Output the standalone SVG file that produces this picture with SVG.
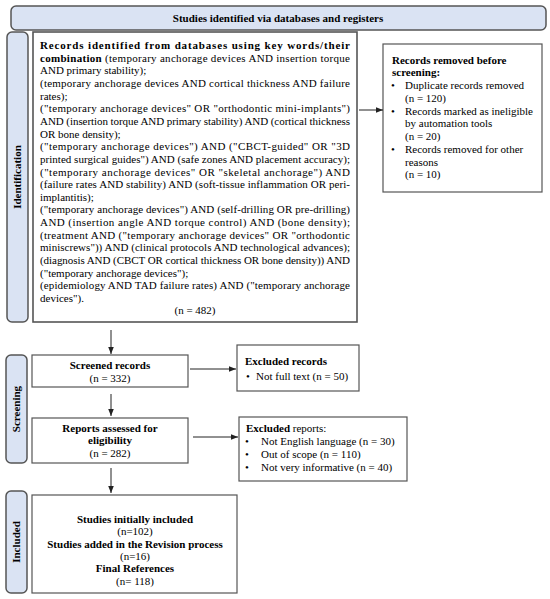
<svg xmlns="http://www.w3.org/2000/svg" width="550" height="599" viewBox="0 0 550 599" font-family="Liberation Serif, Times New Roman, DejaVu Serif, serif" font-size="11">
<style>
text{font-family:'Liberation Serif','Times New Roman','DejaVu Serif',serif;font-size:11px;fill:#000}
.b{font-weight:bold}
.m{text-anchor:middle}
.side{fill:#dae3f3;stroke:#555;stroke-width:1.5}
.box{fill:#fff;stroke:#555;stroke-width:1.2}
.con{stroke:#222;stroke-width:1;fill:none}
</style>
<defs>
<marker id="ah" viewBox="0 0 10 10" refX="10" refY="5" markerWidth="7" markerHeight="7" markerUnits="userSpaceOnUse" orient="auto">
<path d="M0,1 L10,5 L0,9 Z" fill="#222"/>
</marker>
</defs>
<rect width="550" height="599" fill="#fff"/>
<g id="header">
<rect class="side" x="11" y="6" width="535" height="24" rx="5"/>
<text class="b m" x="278" y="22">Studies identified via databases and registers</text>
</g>
<g id="side-identification">
<rect class="side" x="7" y="32" width="21" height="290" rx="5"/>
<text class="b m" transform="translate(21,177) rotate(-90)">Identification</text>
</g>
<g id="side-screening">
<rect class="side" x="6" y="355" width="21" height="108" rx="5"/>
<text class="b m" transform="translate(20,409) rotate(-90)">Screening</text>
</g>
<g id="side-included">
<rect class="side" x="6" y="491" width="21" height="102" rx="5"/>
<text class="b m" transform="translate(20,542) rotate(-90)">Included</text>
</g>
<g id="records-identified">
<rect class="box" x="33" y="32" width="324" height="290" style="stroke-width:1.6"/>
<text class="b" x="40" y="49" textLength="310" lengthAdjust="spacing">Records identified from databases using key words/their</text>
<text x="40" y="61.65" textLength="310" lengthAdjust="spacing"><tspan class="b">combination</tspan> (temporary anchorage devices AND insertion torque</text>
<text x="40" y="74.3">AND primary stability);</text>
<text x="40" y="86.95" textLength="310" lengthAdjust="spacing">(temporary anchorage devices AND cortical thickness AND failure</text>
<text x="40" y="99.6">rates);</text>
<text x="40" y="112.25" textLength="310" lengthAdjust="spacing">("temporary anchorage devices" OR "orthodontic mini-implants")</text>
<text x="40" y="124.9" textLength="310" lengthAdjust="spacing">AND (insertion torque AND primary stability) AND (cortical thickness</text>
<text x="40" y="137.55">OR bone density);</text>
<text x="40" y="150.2" textLength="310" lengthAdjust="spacing">("temporary anchorage devices") AND ("CBCT-guided" OR "3D</text>
<text x="40" y="162.85" textLength="310" lengthAdjust="spacing">printed surgical guides") AND (safe zones AND placement accuracy);</text>
<text x="40" y="175.5" textLength="310" lengthAdjust="spacing">("temporary anchorage devices" OR "skeletal anchorage") AND</text>
<text x="40" y="188.15" textLength="310" lengthAdjust="spacing">(failure rates AND stability) AND (soft-tissue inflammation OR peri-</text>
<text x="40" y="200.8">implantitis);</text>
<text x="40" y="213.45" textLength="310" lengthAdjust="spacing">("temporary anchorage devices") AND (self-drilling OR pre-drilling)</text>
<text x="40" y="226.1" textLength="310" lengthAdjust="spacing">AND (insertion angle AND torque control) AND (bone density);</text>
<text x="40" y="238.75" textLength="310" lengthAdjust="spacing">(treatment AND ("temporary anchorage devices" OR "orthodontic</text>
<text x="40" y="251.4" textLength="310" lengthAdjust="spacing">miniscrews")) AND (clinical protocols AND technological advances);</text>
<text x="40" y="264.05" textLength="310" lengthAdjust="spacing">(diagnosis AND (CBCT OR cortical thickness OR bone density)) AND</text>
<text x="40" y="276.7">("temporary anchorage devices");</text>
<text x="40" y="289.35" textLength="310" lengthAdjust="spacing">(epidemiology AND TAD failure rates) AND ("temporary anchorage</text>
<text x="40" y="302">devices").</text>
<text class="m" x="195" y="314">(n = 482)</text>
</g>
<g id="records-removed">
<rect class="box" x="383" y="44" width="159" height="148"/>
<text class="b" x="392" y="63.5">Records removed before</text>
<text class="b" x="392" y="76.3">screening:</text>
<text x="391" y="89">•</text><text x="405" y="89">Duplicate records removed</text>
<text x="405" y="101.8">(n = 120)</text>
<text x="391" y="114.5">•</text><text x="405" y="114.5">Records marked as ineligible</text>
<text x="405" y="127.3">by automation tools</text>
<text x="405" y="140">(n = 20)</text>
<text x="391" y="152.8">•</text><text x="405" y="152.8">Records removed for other</text>
<text x="405" y="165.5">reasons</text>
<text x="405" y="178.3">(n = 10)</text>
</g>
<g id="screened">
<rect class="box" x="32" y="355" width="156" height="32"/>
<text class="b m" x="110" y="369">Screened records</text>
<text class="m" x="110" y="382">(n = 332)</text>
</g>
<g id="excluded-records">
<rect class="box" x="237" y="345" width="122" height="46"/>
<text class="b" x="245" y="365">Excluded records</text>
<text x="246" y="380">•</text><text x="256" y="380">Not full text (n = 50)</text>
</g>
<g id="reports">
<rect class="box" x="32" y="418" width="156" height="45"/>
<text class="b m" x="110" y="432">Reports assessed for</text>
<text class="b m" x="110" y="444">eligibility</text>
<text class="m" x="110" y="457">(n = 282)</text>
</g>
<g id="excluded-reports">
<rect class="box" x="239" y="417" width="168" height="64"/>
<text x="246" y="431.5"><tspan class="b">Excluded</tspan> reports:</text>
<text x="245" y="444.5">•</text><text x="261" y="444.5">Not English language (n = 30)</text>
<text x="245" y="457.5">•</text><text x="261" y="457.5">Out of scope (n = 110)</text>
<text x="245" y="470.5">•</text><text x="261" y="470.5">Not very informative (n = 40)</text>
</g>
<g id="included">
<rect class="box" x="32" y="495" width="205" height="98"/>
<text class="b m" x="135" y="523">Studies initially included</text>
<text class="m" x="135" y="535">(n=102)</text>
<text class="b m" x="135" y="547.5">Studies added in the Revision process</text>
<text class="m" x="135" y="560">(n=16)</text>
<text class="b m" x="135" y="572">Final References</text>
<text class="m" x="135" y="585">(n= 118)</text>
</g>
<g id="connectors">
<line class="con" x1="359" y1="110" x2="383" y2="110" marker-end="url(#ah)"/>
<line class="con" x1="111" y1="330" x2="111" y2="354" marker-end="url(#ah)"/>
<line class="con" x1="111" y1="394" x2="111" y2="416" marker-end="url(#ah)"/>
<line class="con" x1="111" y1="468" x2="111" y2="493" marker-end="url(#ah)"/>
<line class="con" x1="190" y1="369" x2="236" y2="369" marker-end="url(#ah)"/>
<line class="con" x1="193" y1="437" x2="238" y2="437" marker-end="url(#ah)"/>
</g>
</svg>
